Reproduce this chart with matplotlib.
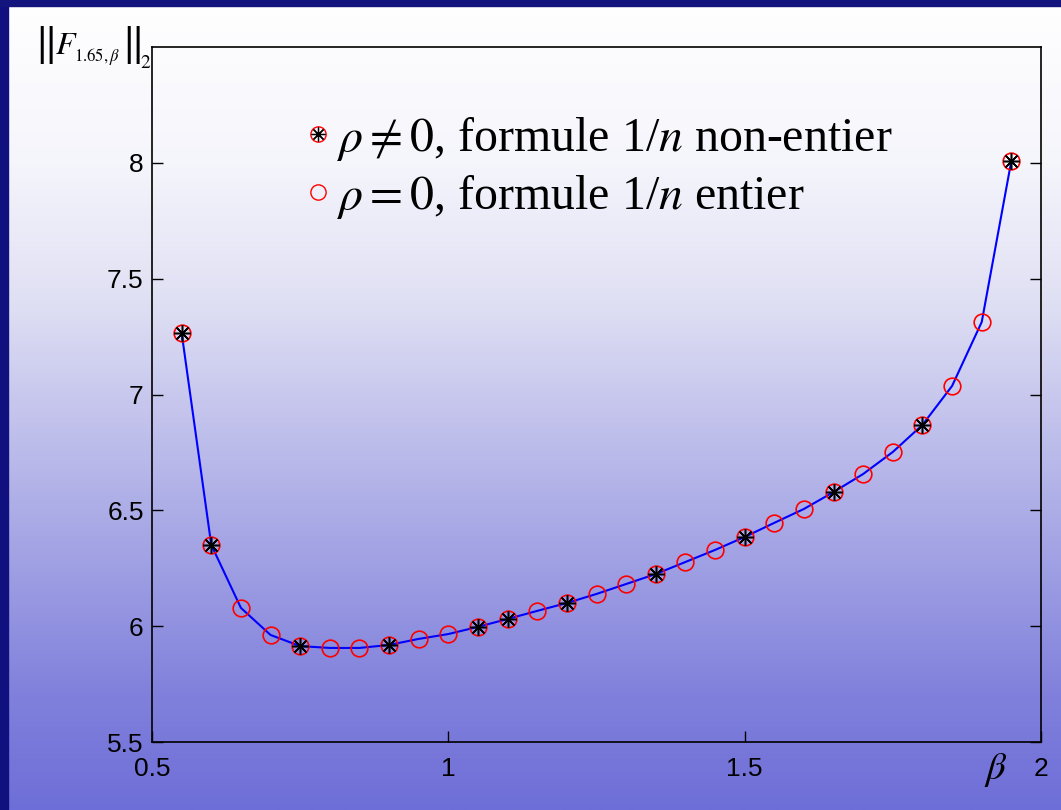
import numpy as np
import matplotlib
matplotlib.use('Agg')
import matplotlib.pyplot as plt
from matplotlib.patches import Rectangle
from matplotlib.lines import Line2D

# Data
beta = [0.55, 0.60, 0.65, 0.70, 0.75, 0.80, 0.85, 0.90, 0.95, 1.00,
        1.05, 1.10, 1.15, 1.20, 1.25, 1.30, 1.35, 1.40, 1.45, 1.50,
        1.55, 1.60, 1.65, 1.70, 1.75, 1.80, 1.85, 1.90, 1.95]
norm_f = [7.266, 6.351, 6.079, 5.962, 5.914, 5.906, 5.906, 5.919, 5.945, 5.966,
          5.997, 6.031, 6.066, 6.100, 6.139, 6.182, 6.225, 6.277, 6.329, 6.385,
          6.446, 6.506, 6.579, 6.657, 6.752, 6.869, 7.037, 7.313, 8.009]
# points computed with the non-integer 1/n formula (rho != 0)
beta_star = [0.55, 0.60, 0.75, 0.90, 1.05, 1.10, 1.20, 1.35, 1.50, 1.65, 1.80, 1.95]

x_ticks = [0.5, 1, 1.5, 2]
x_tick_labels = ['0.5', '1', '1.5', '2']
y_ticks = [5.5, 6, 6.5, 7, 7.5, 8]
y_tick_labels = ['5.5', '6', '6.5', '7', '7.5', '8']

label_star = r'$\rho \neq 0$, formule 1/$n$ non-entier'
label_circle = r'$\rho = 0$, formule 1/$n$ entier'

plt.rcParams['mathtext.fontset'] = 'stix'

fig = plt.figure(figsize=(10.61, 8.10), dpi=100)

# background gradient (white at top to lavender blue at bottom)
bg = fig.add_axes([0, 0, 1, 1], zorder=-10)
stops = [0.0, 0.2, 0.37, 0.49, 0.86, 1.0]
r_g = [255, 245, 224, 200, 128, 110]
b_c = [255, 252, 244, 238, 220, 216]
t = np.linspace(0, 1, 400)
rr = np.interp(t, stops, r_g) / 255
bb = np.interp(t, stops, b_c) / 255
grad = np.dstack([rr, rr, bb]).reshape(400, 1, 3)
bg.imshow(grad, aspect='auto', extent=[0, 1, 0, 1])
bg.set_axis_off()

# dark navy frame on the left and top
fig.patches.append(Rectangle((0, 0), 8 / 1061, 1, transform=fig.transFigure,
                             color='#10107f', zorder=5))
fig.patches.append(Rectangle((0, 1 - 6 / 810), 1, 6 / 810, transform=fig.transFigure,
                             color='#14147f', zorder=5))

ax = fig.add_axes([152 / 1061, 68 / 810, 889 / 1061, 695 / 810])
ax.set_facecolor('none')

ax.plot(beta, norm_f, color='blue', lw=1.5, zorder=2)
ax.plot(beta, norm_f, ls='none', marker='o', ms=12, mfc='none', mec='red',
        mew=1.2, zorder=3)
y_star = [norm_f[beta.index(b)] for b in beta_star]
ax.plot(beta_star, y_star, ls='none', marker=(8, 2, 0), ms=12, color='black',
        mew=1.1, zorder=4)

ax.set_xlim(0.5, 2)
ax.set_ylim(5.5, 8.5)
ax.set_xticks(x_ticks)
ax.set_xticklabels(x_tick_labels, fontsize=19, family='Liberation Sans')
ax.set_yticks(y_ticks)
ax.set_yticklabels(y_tick_labels, fontsize=19, family='Liberation Sans')
ax.tick_params(direction='in', length=8, width=1, top=False, right=True)
ax.tick_params(axis='x', pad=11)
ax.tick_params(axis='y', pad=6)
for s in ax.spines.values():
    s.set_linewidth(1.2)

# legend
h_circ = Line2D([], [], ls='none', marker='o', ms=11, mfc='none', mec='red', mew=1.0)
h_star = Line2D([], [], ls='none', marker=(8, 2, 0), ms=10, color='black', mew=0.9)
h_circ2 = Line2D([], [], ls='none', marker='o', ms=11, mfc='none', mec='red', mew=1.0)
ax.legend([(h_circ, h_star), h_circ2], [label_star, label_circle],
          loc='upper left', bbox_to_anchor=(306 / 1061, 1 - 115 / 810),
          bbox_transform=fig.transFigure, frameon=False, handlelength=0.5,
          handletextpad=0.15, labelspacing=0.2, borderpad=0, borderaxespad=0,
          prop={'family': 'Liberation Serif', 'size': 34.5})

# y label  ||F_{1.65,beta}||_2 built in pieces so the bars are tall
fig.text(34 / 1061, 1 - 45 / 810, r'$\Vert$', fontsize=32, ha='left', va='center')
fig.text(55 / 1061, 1 - 54 / 810, r'$F$', fontsize=23, ha='left', va='baseline')
fig.text(74 / 1061, 1 - 61 / 810, r'$1.65,\beta$', fontsize=12, ha='left',
         va='baseline')
fig.text(121 / 1061, 1 - 45 / 810, r'$\Vert$', fontsize=32, ha='left', va='center')
fig.text(140 / 1061, 1 - 68 / 810, r'$2$', fontsize=14, ha='left', va='baseline')

fig.text(996 / 1061, 1 - 770 / 810, r'$\beta$', fontsize=28, ha='center', va='center')

fig.savefig('out.png', dpi=100)
